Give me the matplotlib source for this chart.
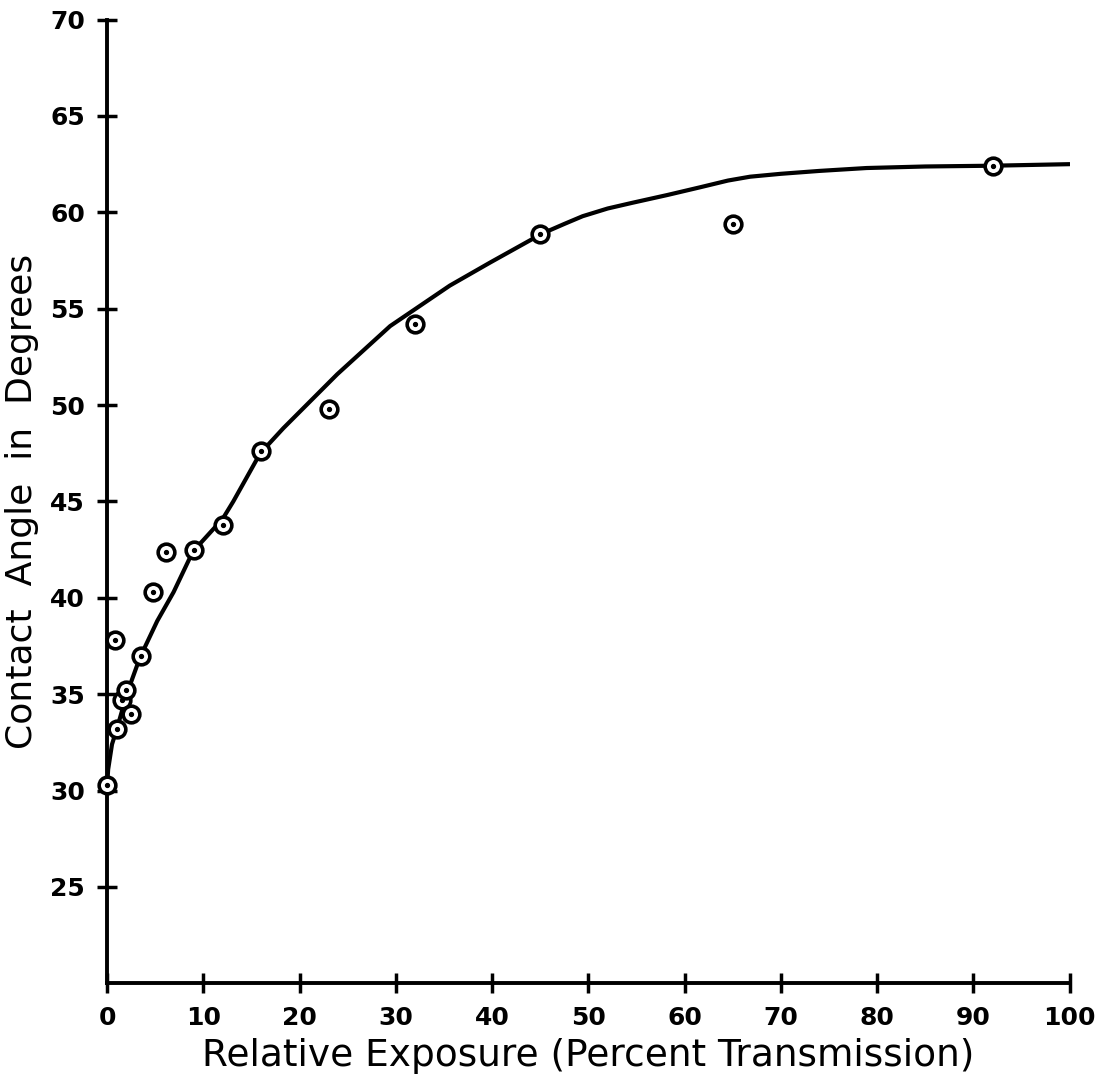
import matplotlib.pyplot as plt

# measured points (percent transmission, contact angle)
exposure = [0, 0.8, 1.0, 1.5, 2.0, 2.5, 3.5, 4.8, 6.1, 9, 12, 16, 23, 32, 45, 65, 92]
angle = [30.3, 37.8, 33.2, 34.7, 35.2, 34.0, 37.0, 40.3, 42.4, 42.5, 43.8, 47.6, 49.8, 54.2, 58.9, 59.4, 62.4]

# hand-drawn fitted curve
curve_x = [0, 0.1, 0.5, 1.0, 2.1, 3.4, 5.2, 6.9, 8.9, 12.0, 13.1, 15.9, 18.3, 23.9,
           29.4, 35.6, 39.8, 45.2, 47.5, 49.4, 52.0, 54.6, 58.2, 61.6, 64.5, 66.8,
           70.0, 74.0, 78.9, 85.0, 92, 100]
curve_y = [30.3, 31.1, 32.4, 33.2, 35.1, 36.9, 38.8, 40.3, 42.4, 44.1, 45.0, 47.5, 48.8, 51.6,
           54.1, 56.2, 57.4, 58.9, 59.4, 59.8, 60.2, 60.5, 60.9, 61.3, 61.65, 61.85,
           62.0, 62.15, 62.3, 62.38, 62.42, 62.5]

xticks = list(range(0, 101, 10))
yticks = list(range(25, 71, 5))

fig = plt.figure(figsize=(11.05, 10.89), dpi=100)
ax = fig.add_axes([0.097, 0.097, 0.871, 0.885])

ax.plot(curve_x, curve_y, 'k-', linewidth=3, solid_capstyle='round',
        solid_joinstyle='round', zorder=2)
ax.plot(exposure, angle, 'o', markersize=12, markerfacecolor='white',
        markeredgecolor='black', markeredgewidth=2.6, zorder=3, clip_on=False)
ax.plot(exposure, angle, 'o', markersize=2.8, color='black', zorder=4, clip_on=False)

ax.set_xlim(0, 100)
ax.set_ylim(20, 70)
ax.set_xticks(xticks)
ax.set_yticks(yticks)
ax.tick_params(direction='inout', length=14, width=2.5, labelsize=18, pad=9)
for lab in ax.get_xticklabels() + ax.get_yticklabels():
    lab.set_fontweight('semibold')

for side in ['top', 'right']:
    ax.spines[side].set_visible(False)
for side in ['left', 'bottom']:
    ax.spines[side].set_linewidth(2.8)

ax.set_xlabel('Relative Exposure (Percent Transmission)', fontsize=27, labelpad=6)
ax.set_ylabel('Contact  Angle  in  Degrees', fontsize=26, labelpad=8)

plt.savefig('out.png')
